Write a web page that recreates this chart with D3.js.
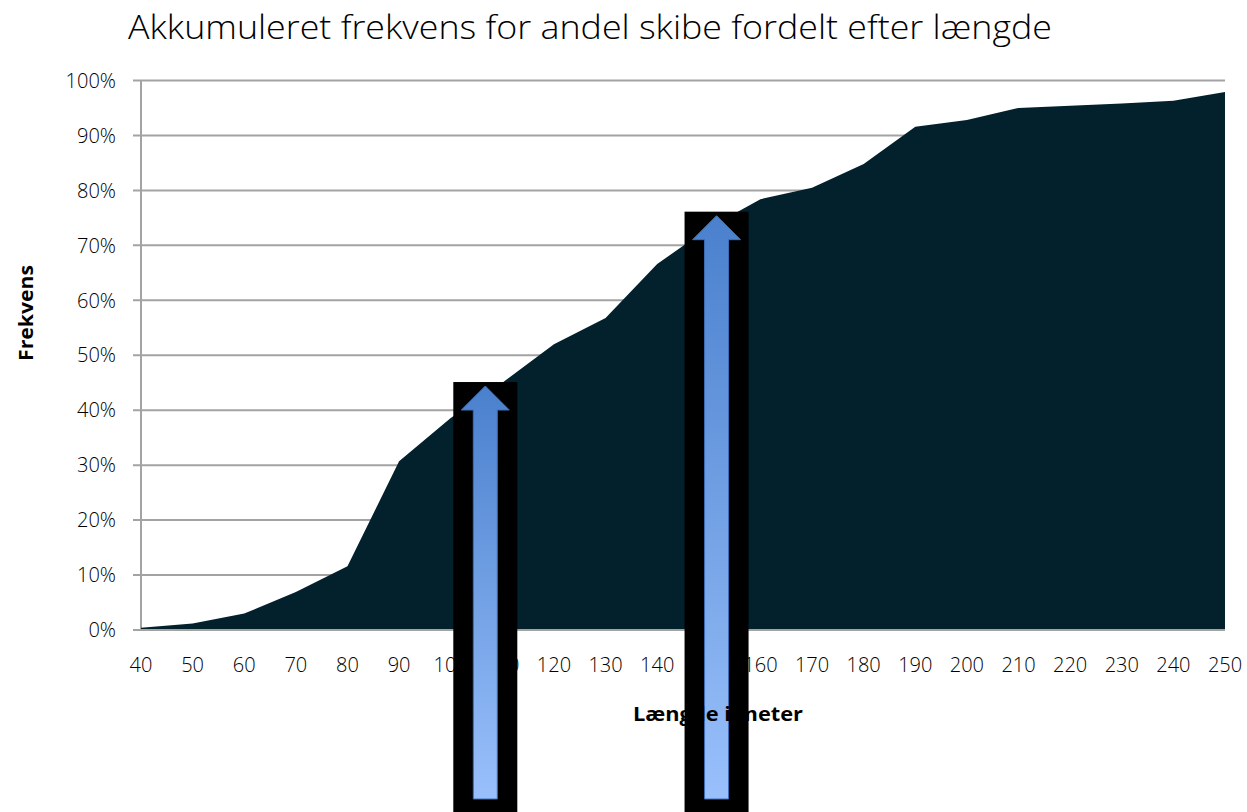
<!DOCTYPE html>
<html>
<head>
<meta charset="utf-8">
<script src="https://cdn.jsdelivr.net/npm/d3@7"></script>
<style>
  body { margin: 0; background: #fff; }
  text { font-family: "Open Sans", "DejaVu Sans", sans-serif; fill: #000; }
</style>
</head>
<body>
<div id="chart"></div>
<script>
// Data
var lengths = [40, 50, 60, 70, 80, 90, 100, 110, 120, 130, 140, 150, 160, 170, 180, 190, 200, 210, 220, 230, 240, 250];
var cumShare = [0.4, 1.2, 3.0, 6.9, 11.6, 30.7, 38.6, 45.0, 52.0, 56.8, 66.6, 73.2, 78.4, 80.5, 84.8, 91.6, 92.8, 95.0, 95.4, 95.8, 96.3, 97.9];
var yTicks = [0, 10, 20, 30, 40, 50, 60, 70, 80, 90, 100];

// Arrow annotations (x position in meters, tip height in %)
var arrowAt = [106.7, 151.5];
var arrowTip = [44.4, 75.4];

var svgWidth = 1247;
var svgHeight = 812;

var margin = { top: 80.5, right: 22, bottom: 182, left: 141 };
var width = svgWidth - margin.left - margin.right;
var height = svgHeight - margin.top - margin.bottom;

var svg = d3.select("#chart").append("svg")
    .attr("width", svgWidth)
    .attr("height", svgHeight);

var chartGroup = svg.append("g")
    .attr("transform", `translate(${margin.left}, ${margin.top})`);

var xScale = d3.scaleLinear()
    .domain([40, 250])
    .range([0, width]);

var yScale = d3.scaleLinear()
    .domain([0, 100])
    .range([height, 0]);

// gridlines
chartGroup.append("g")
    .selectAll("line")
    .data(yTicks)
    .enter()
    .append("line")
    .attr("x1", -8)
    .attr("x2", width)
    .attr("y1", d => yScale(d))
    .attr("y2", d => yScale(d))
    .attr("stroke", "#a3a3a3")
    .attr("stroke-width", 2);

// y axis line
chartGroup.append("line")
    .attr("x1", 0).attr("x2", 0)
    .attr("y1", 0).attr("y2", height)
    .attr("stroke", "#a3a3a3")
    .attr("stroke-width", 2);

// area
var area = d3.area()
    .x((d, i) => xScale(lengths[i]))
    .y0(height)
    .y1(d => yScale(d));

chartGroup.append("path")
    .datum(cumShare)
    .attr("d", area)
    .attr("fill", "#02212c");

// x axis line on top of area
chartGroup.append("line")
    .attr("x1", -8).attr("x2", width)
    .attr("y1", height).attr("y2", height)
    .attr("stroke", "#a3a3a3")
    .attr("stroke-width", 2);

// y tick labels
chartGroup.append("g")
    .selectAll("text")
    .data(yTicks)
    .enter()
    .append("text")
    .attr("x", -25)
    .attr("y", d => yScale(d))
    .attr("dy", "0.36em")
    .attr("text-anchor", "end")
    .style("font-size", "20px")
    .style("font-weight", 300)
    .text(d => d + "%");

// x tick labels
chartGroup.append("g")
    .selectAll("text")
    .data(lengths)
    .enter()
    .append("text")
    .attr("x", d => xScale(d))
    .attr("y", height + 42)
    .attr("text-anchor", "middle")
    .style("font-size", "20px")
    .style("font-weight", 300)
    .text(d => d);

// title
svg.append("text")
    .attr("x", 128)
    .attr("y", 39)
    .attr("textLength", 924)
    .attr("lengthAdjust", "spacingAndGlyphs")
    .style("font-size", "33px")
    .style("font-weight", 300)
    .text("Akkumuleret frekvens for andel skibe fordelt efter længde");

// axis titles
svg.append("text")
    .attr("transform", "translate(33, 313) rotate(-90)")
    .attr("text-anchor", "middle")
    .attr("textLength", 96)
    .attr("lengthAdjust", "spacingAndGlyphs")
    .style("font-size", "20px")
    .style("font-weight", 700)
    .text("Frekvens");

svg.append("text")
    .attr("x", 718)
    .attr("y", 721)
    .attr("text-anchor", "middle")
    .attr("textLength", 170)
    .attr("lengthAdjust", "spacingAndGlyphs")
    .style("font-size", "19px")
    .style("font-weight", 700)
    .text("Længde i meter");

// arrows over black boxes
var defs = svg.append("defs");
var grad = defs.append("linearGradient")
    .attr("id", "arrowGrad")
    .attr("x1", 0).attr("y1", 0)
    .attr("x2", 0).attr("y2", 1);
grad.append("stop").attr("offset", "0%").attr("stop-color", "#4a80cd");
grad.append("stop").attr("offset", "100%").attr("stop-color", "#99c0fb");

var arrows = chartGroup.selectAll(".arrow")
    .data(arrowAt)
    .enter()
    .append("g")
    .attr("class", "arrow")
    .attr("transform", d => `translate(${xScale(d)}, 0)`);

arrows.append("rect")
    .attr("x", -32)
    .attr("width", 64)
    .attr("y", (d, i) => yScale(arrowTip[i]) - 4)
    .attr("height", (d, i) => svgHeight - margin.top - yScale(arrowTip[i]) + 4)
    .attr("fill", "#000");

arrows.append("path")
    .attr("d", (d, i) => {
        var tip = yScale(arrowTip[i]);
        var base = tip + 24;
        var bottom = 799 - margin.top;
        return `M0,${tip} L24,${base} L12,${base} L12,${bottom} L-12,${bottom} L-12,${base} L-24,${base} Z`;
    })
    .attr("fill", "url(#arrowGrad)")
    .attr("stroke", "#3f6fb8")
    .attr("stroke-width", 1);
</script>
</body>
</html>
